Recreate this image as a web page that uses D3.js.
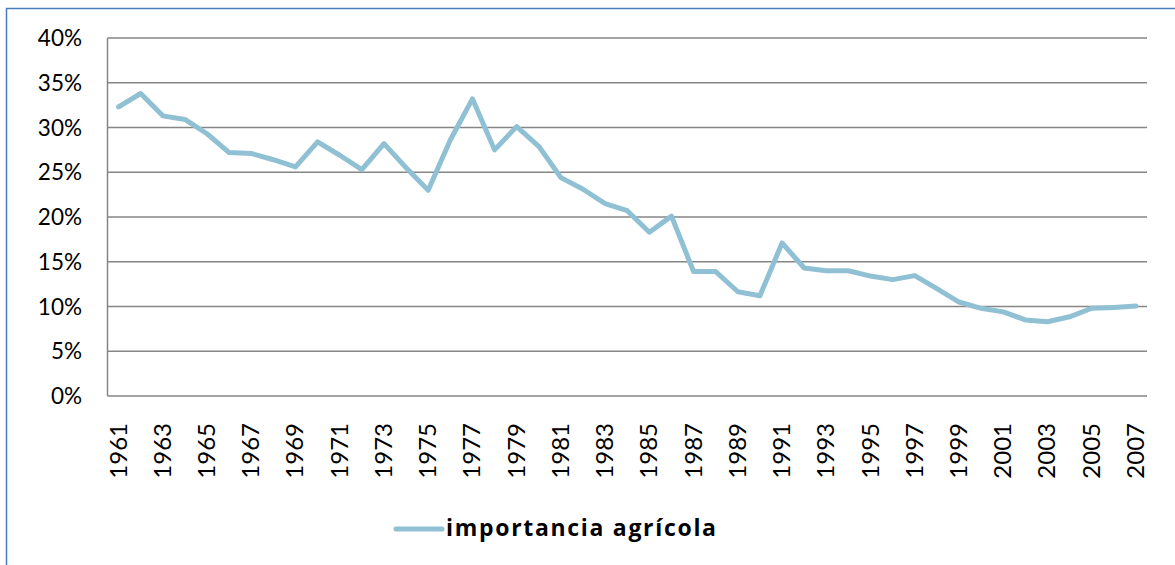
<!DOCTYPE html>
<html>
<head>
<meta charset="utf-8">
<script src="https://cdn.jsdelivr.net/npm/d3@7"></script>
<style>
  body { margin: 0; background: #fff; }
  svg { display: block; font-family: Lato, "Open Sans", sans-serif; }
</style>
</head>
<body>
<div id="chart"></div>
<script>
// years on the category axis
const years = d3.range(1961, 2008);
// share of agriculture (%)
const importancia = [
  32.3, 33.8, 31.3, 30.9, 29.3, 27.2, 27.1, 26.4, 25.6, 28.4,
  26.9, 25.3, 28.2, 25.5, 23.0, 28.6, 33.2, 27.5, 30.1, 27.9,
  24.4, 23.1, 21.5, 20.7, 18.3, 20.1, 13.9, 13.9, 11.65, 11.2,
  17.1, 14.3, 14.0, 14.0, 13.4, 13.0, 13.45, 12.0, 10.5, 9.8,
  9.4, 8.5, 8.3, 8.85, 9.8, 9.9, 10.05
];
const yTicks = [0, 5, 10, 15, 20, 25, 30, 35, 40];
const seriesName = "importancia agrícola";

var W = 1175, H = 565;
var margin = {top: 38, right: 28, bottom: 169, left: 107.5};

var svg = d3.select("#chart").append("svg")
    .attr("width", W)
    .attr("height", H);

// outer chart border (only top and left visible)
svg.append("rect")
    .attr("x", 6.5).attr("y", 8.5)
    .attr("width", W + 20).attr("height", H + 20)
    .attr("fill", "none")
    .attr("stroke", "#4a7ebb")
    .attr("stroke-width", 1.5);

var x = d3.scaleBand()
    .domain(years)
    .range([margin.left, W - margin.right]);

var y = d3.scaleLinear()
    .domain([0, 40])
    .range([H - margin.bottom, margin.top]);

// gridlines
svg.append("g")
    .selectAll("line")
    .data(yTicks)
    .enter().append("line")
    .attr("x1", margin.left)
    .attr("x2", W - margin.right)
    .attr("y1", d => y(d))
    .attr("y2", d => y(d))
    .attr("stroke", "#868686")
    .attr("stroke-width", 1.5);

// vertical axis line
svg.append("line")
    .attr("x1", margin.left).attr("x2", margin.left)
    .attr("y1", y(40)).attr("y2", y(0))
    .attr("stroke", "#868686")
    .attr("stroke-width", 1.5);

// y tick labels
svg.append("g")
    .selectAll("text")
    .data(yTicks)
    .enter().append("text")
    .attr("x", 82)
    .attr("y", d => y(d))
    .attr("dy", "0.36em")
    .attr("text-anchor", "end")
    .style("font-size", "22.5px")
    .style("fill", "#000")
    .text(d => d + "%");

// x tick labels, every other year
svg.append("g")
    .selectAll("text")
    .data(years.filter((d, i) => i % 2 === 0))
    .enter().append("text")
    .attr("transform", d => "translate(" + (x(d) + x.bandwidth() / 2 + 8) + ",423) rotate(-90)")
    .attr("text-anchor", "end")
    .style("font-size", "24px")
    .style("fill", "#000")
    .text(d => d);

// the series line
var line = d3.line()
    .x((d, i) => x(years[i]) + x.bandwidth() / 2)
    .y(d => y(d));

svg.append("path")
    .datum(importancia)
    .attr("d", line)
    .attr("fill", "none")
    .attr("stroke", "#8fc0d4")
    .attr("stroke-width", 5)
    .attr("stroke-linejoin", "round")
    .attr("stroke-linecap", "round");

// legend
var legend = svg.append("g");
legend.append("line")
    .attr("x1", 396).attr("x2", 442)
    .attr("y1", 529).attr("y2", 529)
    .attr("stroke", "#8fc0d4")
    .attr("stroke-width", 5)
    .attr("stroke-linecap", "round");
legend.append("text")
    .attr("x", 446)
    .attr("y", 536)
    .attr("textLength", 270)
    .attr("lengthAdjust", "spacing")
    .style("font-family", "'Open Sans', Lato, sans-serif")
    .style("font-size", "23px")
    .style("font-weight", "bold")
    .style("fill", "#000")
    .text(seriesName);
</script>
</body>
</html>
